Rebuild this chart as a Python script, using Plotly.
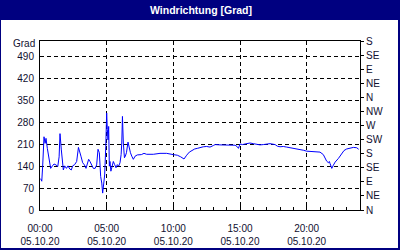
import plotly.graph_objects as go

# Data (time of day on 05.10.20, wind direction in degrees)
times = ["00:03","00:08","00:12","00:18","00:23","00:27","00:33","00:41","00:48","00:56",
         "01:03","01:12","01:20","01:26","01:30","01:36","01:41","01:45","01:51","01:59",
         "02:06","02:14","02:21","02:27","02:36","02:45","02:53","02:59","03:05","03:12",
         "03:20","03:27","03:33","03:39","03:45","03:53","04:00","04:08","04:15","04:21",
         "04:27","04:33","04:38","04:42","04:47","04:51","04:56","05:00","05:03","05:06",
         "05:09","05:12","05:15","05:19","05:24","05:30","05:36","05:42","05:48","05:54",
         "06:00","06:05","06:08","06:11","06:15","06:20","06:24","06:29","06:36","06:42",
         "06:47","06:53","07:00","07:08","07:18","07:36","07:48","08:00","08:30","09:00",
         "09:30","10:00","10:18","10:33","10:48","11:00","11:12","11:24","11:36","11:48",
         "12:00","12:15","12:30","12:45","13:00","13:08","13:30","14:00","14:18","14:38",
         "14:48","14:53","15:00","15:12","15:23","15:45","16:00","16:15","16:30","16:45",
         "17:00","17:15","17:38","17:48","18:00","18:15","18:30","18:45","19:00","19:15",
         "19:30","19:45","20:00","20:15","20:30","20:45","21:00","21:15","21:30","21:38",
         "21:42","21:45","21:53","22:00","22:08","22:23","22:38","22:48","23:00","23:12",
         "23:23","23:30","23:45","23:54"]
values = [100, 92, 140, 234, 213, 229, 197, 155, 133, 141,
          147, 144, 139, 170, 244, 192, 144, 128, 141, 133,
          141, 131, 128, 141, 145, 155, 200, 181, 170, 151,
          144, 133, 151, 162, 155, 144, 133, 133, 144, 194,
          183, 107, 86, 54, 86, 112, 202, 310, 257, 224,
          267, 140, 155, 124, 140, 155, 145, 135, 145, 140,
          151, 177, 214, 299, 214, 167, 172, 183, 217, 193,
          183, 172, 162, 172, 176, 177, 181, 178, 178, 181,
          181, 177, 175, 170, 163, 175, 185, 190, 195, 197,
          200, 202, 203, 201, 206, 209, 208, 208, 207, 207,
          202, 197, 211, 209, 211, 214, 212, 210, 208, 209,
          210, 212, 209, 204, 202, 203, 201, 199, 197, 197,
          195, 191, 188, 187, 187, 187, 185, 177, 156, 151,
          155, 149, 133, 143, 153, 165, 182, 190, 195, 197,
          198, 200, 199, 194]

day = "2020-10-05"
x_vals = [f"{day} {t}" for t in times]

left_ticks = [0, 70, 140, 210, 280, 350, 420, 490]
right_ticks = [0, 45, 90, 135, 180, 225, 270, 315, 360, 405, 450, 495, 540]
right_labels = ["N", "NE", "E", "SE", "S", "SW", "W", "NW", "N", "NE", "E", "SE", "S"]
x_tick_times = ["00:00", "05:00", "10:00", "15:00", "20:00"]
x_tick_date = "05.10.20"

FONT = "Liberation Sans"
TXT = "#101030"
NAVY = "#000080"

fig = go.Figure()
fig.add_trace(go.Scatter(x=x_vals, y=values, mode="lines",
                         line=dict(color="#0000FF", width=1), showlegend=False,
                         hoverinfo="skip"))
# invisible trace to activate the right axis
fig.add_trace(go.Scatter(x=[x_vals[0]], y=[0], yaxis="y2", mode="markers",
                         marker=dict(opacity=0), showlegend=False, hoverinfo="skip"))

W, H = 400, 250
L, R, T, B = 40, 40, 41, 40
pw, ph = W - L - R, H - T - B

def px(xp):
    return (xp - L) / pw

def py(yp):
    return (H - B - yp) / ph

fig.update_layout(
    width=W, height=H,
    margin=dict(l=L, r=R, t=T, b=B, pad=0),
    paper_bgcolor=NAVY,
    plot_bgcolor="white",
    font=dict(family=FONT, size=10, color=TXT),
    xaxis=dict(
        type="date", automargin=False,
        range=[f"{day} 00:00", "2020-10-06 00:00"],
        tickvals=[f"{day} {t}" for t in x_tick_times],
        ticktext=[f"{t}<br>{x_tick_date}" for t in x_tick_times],
        showgrid=True, gridcolor="black", gridwidth=1, griddash="4px,3px",
        showline=True, linecolor="black", linewidth=1, mirror=True,
        ticks="inside", ticklen=4, tickcolor="black", ticklabelstandoff=9,
        minor=dict(ticks="inside", ticklen=3, tickcolor="black",
                   dtick=3600000, tick0=f"{day} 00:00", showgrid=False),
        zeroline=False, fixedrange=True,
    ),
    yaxis=dict(
        range=[0, 540], automargin=False,
        tickvals=left_ticks,
        ticktext=[str(v) for v in left_ticks],
        showgrid=True, gridcolor="black", gridwidth=1, griddash="4px,3px",
        showline=True, linecolor="black", linewidth=1, mirror=True,
        ticks="", ticklabelstandoff=3,
        zeroline=False, fixedrange=True,
    ),
    yaxis2=dict(
        range=[0, 540], overlaying="y", side="right", automargin=False,
        tickvals=right_ticks, ticktext=right_labels,
        showgrid=False, showline=True, linecolor="black", linewidth=1,
        ticks="outside", ticklen=3, tickcolor="black",
        zeroline=False, fixedrange=True,
    ),
    shapes=[
        dict(type="rect", xref="paper", yref="paper", layer="below",
             x0=px(1), x1=px(398), y0=py(248), y1=py(20),
             fillcolor="white", line=dict(width=0)),
    ],
    annotations=[
        dict(text="Windrichtung [Grad]", xref="paper", yref="paper",
             x=px(201), y=py(9.5), xanchor="center", yanchor="middle",
             showarrow=False, font=dict(family=FONT, size=10.5, color="white", weight="bold")),
        dict(text="Grad", xref="paper", yref="paper",
             x=px(37), y=py(43.5), xanchor="right", yanchor="middle",
             showarrow=False, font=dict(family=FONT, size=10, color=TXT)),
    ],
)

fig.write_html("out.html")
